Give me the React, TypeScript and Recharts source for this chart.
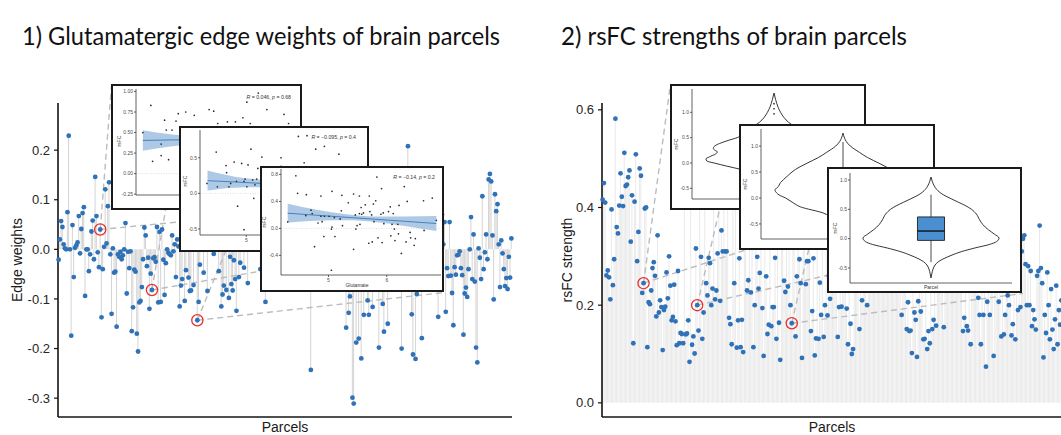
import React from 'react';
import {
  ComposedChart, ScatterChart, Bar, Line, Scatter, Area, XAxis, YAxis,
  ReferenceLine, ReferenceDot, ReferenceArea,
} from 'recharts';

// edge weight per parcel (panel 1), in parcel order
const edgeWeights = [
  -0.021, 0.02, 0.057, 0.045, 0.01, 0.002, 0, 0.075, 0.229, 0,
  -0.174, 0.049, -0.056, 0.003, 0.008, 0.014, 0.067, -0.008, 0.041, 0.073,
  0.085, -0.094, 0, 0, -0.044, -0.01, 0.036, 0.058, -0.02, 0.146,
  0.067, -0.006, -0.036, 0.04, -0.137, -0.04, 0.005, 0.121, 0.012, 0.087,
  0.135, -0.01, -0.13, 0.002, -0.047, -0.045, -0.156, -0.01, -0.015, -0.005,
  -0.02, -0.012, 0, 0.053, -0.089, -0.005, -0.038, -0.004, -0.165, -0.117,
  -0.041, -0.045, -0.17, -0.206, -0.107, -0.104, -0.076, -0.02, 0.044, 0.028,
  -0.034, -0.017, -0.12, -0.049, -0.082, -0.018, -0.016, -0.025, 0.045, -0.107,
  0.035, -0.106, 0.04, -0.021, -0.092, -0.028, 0, -0.007, -0.01, -0.012,
  0.028, -0.004, 0.01, -0.056, 0.02, 0.006, -0.115, -0.073, -0.06, 0.03,
  -0.104, -0.042, 0.055, -0.057, -0.084, -0.083, 0.012, -0.072, 0.09, 0.018,
  -0.143, -0.106, -0.031, 0.04, 0.003, -0.047, 0.07, 0.025, -0.084, 0.11,
  0.008, 0.045, 0.015, -0.009, 0.06, 0.02, 0.085, -0.044, 0.035, -0.115,
  -0.091, -0.073, 0.01, -0.082, 0.05, -0.098, -0.015, -0.07, -0.083, -0.022,
  -0.06, -0.124, 0.03, -0.056, -0.027, 0.075, 0.004, -0.037, 0.042, 0.018,
  -0.068, 0.065, 0.005, 0.03, 0.012, 0.07, 0, 0.045, 0.095, 0.02,
  -0.04, 0.06, 0.015, -0.065, -0.106, 0.03, 0.08, -0.02, 0.05, 0.01,
  -0.05, 0.11, 0.025, -0.03, 0.065, 0, -0.075, 0.04, 0.13, -0.01,
  0.02, -0.055, 0.07, 0.035, -0.025, 0.09, 0.005, -0.07, 0.045, 0.015,
  -0.04, 0.1, 0.03, -0.015, 0.055, -0.06, 0.02, 0.075, -0.035, 0.01,
  -0.243, 0.04, -0.05, 0.085, 0, 0.03, -0.08, 0.06, 0.015, -0.02,
  0.12, 0.035, -0.045, 0.07, 0.005, -0.065, 0.045, 0.02, -0.03, 0.095,
  0.01, -0.055, 0.05, 0.025, -0.01, 0.08, -0.04, 0.03, -0.158, 0.04,
  -0.128, -0.095, 0.02, -0.299, -0.311, 0.06, -0.188, -0.03, -0.18, 0.05,
  -0.22, 0.01, -0.132, 0.085, -0.04, -0.103, -0.132, 0.03, -0.06, -0.116,
  0.07, 0, -0.05, 0.11, -0.198, 0.025, -0.07, -0.11, -0.166, 0.045,
  -0.02, -0.15, 0.09, 0.015, -0.065, 0.055, -0.035, 0.14, 0.005, -0.075,
  0.035, -0.01, -0.2, 0.065, -0.045, 0.02, 0.1, 0.208, -0.025, 0.05,
  -0.131, -0.212, 0.01, -0.221, -0.09, 0.075, -0.04, 0.03, -0.179, 0.06,
  -0.015, 0.12, -0.06, 0.04, 0, -0.08, 0.085, 0.025, -0.03, 0.05,
  -0.05, -0.136, 0.035, -0.02, 0.07, 0.01, 0.055, -0.126, -0.038, -0.054,
  0.055, -0.053, -0.088, -0.153, -0.036, -0.051, -0.012, -0.011, -0.004, -0.038,
  -0.052, -0.172, -0.089, -0.077, -0.096, -0.04, 0, 0.065, -0.06, 0.03,
  -0.065, -0.198, -0.228, 0.002, -0.017, -0.06, 0.107, -0.04, -0.006, 0.03,
  -0.02, 0.141, 0.152, 0.137, 0.028, -0.101, 0.111, 0.077, 0.091, 0.01,
  -0.076, 0.018, -0.008, -0.04, -0.074, -0.058, -0.08, -0.015, -0.057, 0.022,
];

// rsFC strength per parcel (panel 2)
const rsfcStrength = [
  0.416, 0.45, 0.41, 0.261, 0.271, 0.257, 0.212, 0.396, 0.241, 0.294,
  0.582, 0.36, 0.347, 0.404, 0.47, 0.422, 0.403, 0.512, 0.444, 0.447,
  0.462, 0.476, 0.33, 0.425, 0.122, 0.412, 0.509, 0.29, 0.35, 0.48,
  0.465, 0.225, 0.245, 0.398, 0.4, 0.114, 0.206, 0.202, 0.23, 0.276,
  0.288, 0.26, 0.177, 0.343, 0.185, 0.21, 0.196, 0.108, 0.19, 0.197,
  0.267, 0.214, 0.3, 0.24, 0.169, 0.176, 0.242, 0.167, 0.118, 0.27,
  0.122, 0.143, 0.141, 0.122, 0.43, 0.14, 0.142, 0.169, 0.084, 0.41,
  0.119, 0.136, 0.101, 0.316, 0.2, 0.148, 0.45, 0.299, 0.131, 0.185,
  0.4, 0.245, 0.22, 0.297, 0.286, 0.2, 0.234, 0.42, 0.212, 0.23,
  0.306, 0.44, 0.209, 0.353, 0.31, 0.41, 0.31, 0.31, 0.46, 0.174,
  0.161, 0.12, 0.41, 0.245, 0.43, 0.113, 0.169, 0.296, 0.114, 0.17,
  0.104, 0.35, 0.33, 0.23, 0.251, 0.38, 0.226, 0.34, 0.114, 0.2,
  0.42, 0.299, 0.234, 0.266, 0.36, 0.194, 0.096, 0.33, 0.259, 0.141,
  0.16, 0.4, 0.157, 0.196, 0.196, 0.297, 0.131, 0.35, 0.164, 0.088,
  0.37, 0.32, 0.25, 0.227, 0.39, 0.238, 0.34, 0.2, 0.163, 0.36,
  0.33, 0.136, 0.259, 0.41, 0.294, 0.245, 0.092, 0.35, 0.32, 0.243,
  0.29, 0.29, 0.38, 0.147, 0.188, 0.296, 0.097, 0.132, 0.34, 0.131,
  0.246, 0.18, 0.37, 0.135, 0.2, 0.33, 0.179, 0.26, 0.213, 0.3,
  0.35, 0.24, 0.28, 0.32, 0.135, 0.196, 0.27, 0.197, 0.3, 0.25,
  0.38, 0.193, 0.12, 0.29, 0.162, 0.1, 0.11, 0.26, 0.34, 0.23,
  0.31, 0.151, 0.28, 0.21, 0.36, 0.25, 0.3, 0.2, 0.27, 0.31,
  0.24, 0.35, 0.29, 0.26, 0.42, 0.3, 0.25, 0.33, 0.28, 0.38,
  0.24, 0.31, 0.27, 0.45, 0.29, 0.34, 0.25, 0.3, 0.37, 0.26,
  0.32, 0.28, 0.4, 0.25, 0.18, 0.3, 0.27, 0.33, 0.151, 0.206,
  0.147, 0.148, 0.102, 0.29, 0.185, 0.17, 0.094, 0.208, 0.26, 0.187,
  0.32, 0.13, 0.131, 0.28, 0.11, 0.147, 0.122, 0.35, 0.151, 0.17,
  0.27, 0.158, 0.3, 0.25, 0.34, 0.27, 0.29, 0.155, 0.36, 0.24,
  0.31, 0.28, 0.41, 0.26, 0.33, 0.25, 0.3, 0.38, 0.27, 0.32,
  0.24, 0.29, 0.147, 0.174, 0.26, 0.157, 0.148, 0.3, 0.12, 0.34,
  0.27, 0.25, 0.31, 0.28, 0.215, 0.18, 0.12, 0.36, 0.18, 0.26,
  0.074, 0.207, 0.3, 0.18, 0.33, 0.25, 0.096, 0.29, 0.38, 0.24,
  0.207, 0.27, 0.136, 0.32, 0.14, 0.18, 0.28, 0.22, 0.2, 0.35,
  0.138, 0.161, 0.26, 0.13, 0.3, 0.19, 0.25, 0.196, 0.31, 0.336,
  0.343, 0.284, 0.2, 0.28, 0.2, 0.27, 0.157, 0.19, 0.171, 0.15,
  0.26, 0.27, 0.363, 0.276, 0.245, 0.093, 0.18, 0.143, 0.267, 0.2,
  0.13, 0.233, 0.15, 0.11, 0.171, 0.24, 0.12, 0.19, 0.16, 0.21,
];

const edgeTicks = [-0.3, -0.2, -0.1, 0, 0.1, 0.2];
const rsfcTicks = [0, 0.2, 0.4, 0.6];

// parcels circled in red
const edgeHighlights = [33, 74, 110];
const rsfcHighlights = [32, 74, 148];

// zoom connectors: [from parcel, to parcel position, to value]
const edgeLinks = [
  [33, 42, 0.333], [33, 193, 0.079],
  [74, 96, 0.248], [74, 246, -0.006],
  [110, 160, 0.168], [110, 306, -0.087],
];
const rsfcLinks = [
  [32, 53, 0.651], [32, 207, 0.394],
  [74, 107, 0.569], [74, 261, 0.312],
  [148, 176, 0.482], [148, 329, 0.224],
];

// inset scatter plots: [glutamate, rsFC]
const parcelAPoints = [
  [4.32, 0.5], [4.46, 0.83], [4.49, 0.15], [4.64, 0.22], [4.64, 0.36], [4.7, 0.65],
  [4.73, 0.53], [4.77, 0.17], [4.83, 0.53], [4.9, 0.64], [4.94, 0.73], [5.07, 0.75],
  [5.22, 0.71], [5.48, 0.78], [5.56, 0.76], [5.63, 0.61], [5.8, 0.63], [5.94, 0.63],
  [6.07, 0.68], [6.14, 0.87], [6.2, 0.61], [6.34, 0.98], [6.49, 0.78], [6.79, 0.72],
  [6.87, 0.61], [5.3, 0.3], [5.9, 0.12], [6.3, 0.42], [6.6, 0.22], [5.5, 0.45],
  [6.0, 0.35], [5.15, 0.05], [6.45, 0.05], [5.7, -0.1], [6.7, 0.48],
];
const parcelBPoints = [
  [4.32, 0.14], [4.48, 0.58], [4.5, 0.093], [4.65, 0.39], [4.66, 0.29], [4.7, 0.093],
  [4.73, 0.14], [4.79, 0.44], [4.83, 0.17], [4.92, 0.42], [4.96, 0.17], [4.98, 0.2],
  [5.01, 0.093], [5.03, 0.4], [5.08, 0.62], [5.11, 0.19], [5.13, -0.07], [5.18, 0.2],
  [5.2, 0.35], [5.27, 0.51], [4.85, -0.18], [4.96, -0.51], [5.6, 0.5], [5.6, 0.38],
  [5.7, 0.27], [5.9, 0.8], [6.05, 0.81], [6.2, 0.62], [6.0, 0.43], [6.35, 0.66],
  [6.6, 0.55], [5.4, 0.24], [5.5, 0.05], [5.8, 0.15], [6.1, 0.3], [6.5, 0.1],
  [5.3, 0.31], [5.9, -0.2], [6.4, -0.1], [5.15, 0.12],
];
const parcelCPoints = [
  [4.3, 0.098], [4.44, 0.78], [4.47, 0.52], [4.62, 0.5], [4.61, 0.19], [4.7, 0.27],
  [4.72, 0.22], [4.76, -0.27], [4.82, 0.08], [4.87, 0.48], [4.87, 0.18], [4.89, 0.1],
  [4.92, -0.12], [4.93, 0.18], [5.01, 0.18], [5.05, -0.01], [5.06, 0.02], [5.06, 0.55],
  [5.1, 0.16], [5.11, -0.12], [5.05, -0.62], [5.2, 0.14], [5.22, 0.26], [5.23, 0.49],
  [5.24, 0.04], [5.34, 0.38], [5.43, 0.51], [5.43, -0.31], [5.46, 0.2], [5.47, -0.01],
  [5.49, 0.04], [5.53, 0.22], [5.53, 0.48], [5.54, 0.06], [5.56, 0.31], [5.57, 0.21],
  [5.6, 0.23], [5.63, 0.35], [5.69, -0.22], [5.7, 0.48], [5.71, 0.25], [5.74, 0.2],
  [5.75, -0.2], [5.77, 0.36], [5.78, 0.1], [5.81, 0.41], [5.83, 0.76], [5.85, -0.14],
  [5.9, 0.21], [5.91, 0.59], [5.92, -0.21], [5.94, 0.23], [5.95, 0.07], [6.03, 0.25],
  [6.06, 0.32], [6.07, -0.11], [6.09, 0.06], [6.11, 0.22], [6.13, -0.01], [6.14, -0.18],
  [6.19, 0.06], [6.2, -0.08], [6.21, 0.34], [6.25, -0.37], [6.3, 0.62], [6.33, -0.2],
  [6.35, 0.4], [6.4, -0.06], [6.41, -0.14], [6.47, -0.25], [6.49, -0.15], [6.63, 0.41],
  [6.64, -0.03], [6.78, 0.45], [6.85, 0.12],
];

// linear fits: [glutamate, fit, lower CI, upper CI]
const parcelAFit = [
  [4.32, 0.404, 0.28, 0.527], [4.8, 0.41, 0.33, 0.48], [5.3, 0.413, 0.36, 0.46],
  [5.8, 0.42, 0.37, 0.47], [6.3, 0.43, 0.36, 0.5], [6.9, 0.455, 0.33, 0.58],
];
const parcelBFit = [
  [4.33, 0.178, 0.04, 0.32], [4.8, 0.16, 0.08, 0.235], [5.3, 0.138, 0.085, 0.19],
  [5.8, 0.118, 0.07, 0.17], [6.3, 0.097, 0.04, 0.16], [6.9, 0.073, -0.03, 0.17],
];
const parcelCFit = [
  [4.3, 0.225, 0.085, 0.365], [4.8, 0.195, 0.115, 0.275], [5.3, 0.165, 0.12, 0.21],
  [5.8, 0.136, 0.096, 0.176], [6.3, 0.106, 0.036, 0.176], [6.85, 0.073, -0.037, 0.183],
];

// violin half-widths: [rsFC, density]
const violinD = [
  [1.38, 0], [1.25, 0.02], [1.1, 0.05], [1.0, 0.08], [0.9, 0.12], [0.8, 0.18],
  [0.7, 0.27], [0.62, 0.34], [0.55, 0.4], [0.5, 0.45], [0.45, 0.55], [0.4, 0.64],
  [0.34, 0.72], [0.29, 0.74], [0.25, 0.72], [0.22, 0.69], [0.18, 0.71], [0.12, 0.79],
  [0.08, 0.83], [0.04, 0.82], [0, 0.73], [-0.06, 0.58], [-0.12, 0.42], [-0.2, 0.26],
  [-0.3, 0.15], [-0.4, 0.08], [-0.5, 0.05], [-0.6, 0.02], [-0.7, 0],
];
const violinE = [
  [1.25, 0], [1.15, 0.02], [1.09, 0.04], [1.0, 0.09], [0.88, 0.2], [0.78, 0.3],
  [0.67, 0.44], [0.55, 0.58], [0.42, 0.68], [0.3, 0.76], [0.2, 0.8], [0.16, 0.83],
  [0.1, 0.81], [0.06, 0.78], [0, 0.7], [-0.08, 0.62], [-0.17, 0.52], [-0.29, 0.24],
  [-0.4, 0.13], [-0.5, 0.08], [-0.6, 0.04], [-0.7, 0],
];
const violinF = [
  [1.05, 0], [0.98, 0.015], [0.9, 0.04], [0.84, 0.07], [0.75, 0.15], [0.68, 0.25],
  [0.62, 0.34], [0.56, 0.43], [0.5, 0.5], [0.42, 0.56], [0.32, 0.6], [0.24, 0.64],
  [0.15, 0.71], [0.08, 0.78], [0.01, 0.84], [-0.05, 0.81], [-0.1, 0.72], [-0.16, 0.54],
  [-0.22, 0.38], [-0.28, 0.26], [-0.34, 0.16], [-0.39, 0.095], [-0.45, 0.05],
  [-0.52, 0.025], [-0.6, 0.01], [-0.67, 0],
];
// boxplot: [lower whisker, Q1, median, Q3, upper whisker]
const boxE = [-0.38, -0.05, 0.12, 0.35, 1.08];
const boxF = [-0.4, -0.03, 0.13, 0.37, 0.75];
const spikeDotsD = [1.17, 1.07, 0.97];

const DOT = '#2f72b8';
const AXIS = '#141414';
const INK = '#333';

const noShape = () => <g />;
const tinyDot = (p: any) => <circle cx={p.cx} cy={p.cy} r={0.85} fill="#2a2a2a" />;

function Lollipop({ values, width, margin, yWidth, domain, ticks, stem, highlights, links }: any) {
  const data = values.map((v: number, i: number) => ({ i, v }));
  return (
    <ComposedChart width={width} height={435} data={data} margin={margin}>
      <XAxis dataKey="i" type="category" tick={false} tickLine={false} height={1}
        axisLine={{ stroke: AXIS, strokeWidth: 1.6 }} />
      <YAxis type="number" domain={domain} allowDataOverflow ticks={ticks} width={yWidth}
        tickFormatter={(v: number) => v.toFixed(1)} tickSize={4} tickMargin={4}
        tick={{ fontSize: 13, fill: '#262626' }}
        axisLine={{ stroke: AXIS, strokeWidth: 1.6 }} tickLine={{ stroke: AXIS, strokeWidth: 1.2 }} />
      <Bar dataKey="v" barSize={1} fill={stem} isAnimationActive={false} />
      {links.map(([from, toI, toV]: number[], k: number) => (
        <ReferenceLine key={`l${k}`} ifOverflow="visible"
          segment={[{ x: from, y: values[from] }, { x: toI, y: toV }]}
          stroke="#bcbcbc" strokeWidth={1.4} strokeDasharray="6 4" />
      ))}
      <Line dataKey="v" stroke="none" isAnimationActive={false}
        dot={{ r: 2.4, fill: DOT, stroke: 'none' }} activeDot={false} />
      {highlights.map((i: number) => (
        <ReferenceDot key={`h${i}`} x={i} y={values[i]} r={5.6} fill="none"
          stroke="#e8302a" strokeWidth={1.3} ifOverflow="visible" />
      ))}
    </ComposedChart>
  );
}

function Frame({ left, top, width, height, children }: any) {
  return (
    <div style={{
      position: 'absolute', left, top, width, height, boxSizing: 'border-box',
      border: '2px solid #1a1a1a', background: '#fff', overflow: 'hidden',
    }}>
      {children}
    </div>
  );
}

function Overlay({ w, h, children }: any) {
  return (
    <svg width={w} height={h} style={{ position: 'absolute', left: 0, top: 0 }}>
      {children}
    </svg>
  );
}

function Note({ x, y, r, p }: any) {
  return (
    <text x={x} y={y} textAnchor="end" fontSize={5.2} fill={INK}>
      <tspan fontStyle="italic">R</tspan>{` = ${r}, `}<tspan fontStyle="italic">p</tspan>{` = ${p}`}
    </text>
  );
}

function YLab({ x, y }: any) {
  return (
    <text x={x} y={y} transform={`rotate(-90 ${x} ${y})`} textAnchor="middle" fontSize={5} fill={INK}>rsFC</text>
  );
}

const smallTick = { fontSize: 5, fill: '#4d4d4d' };
const smallAxis = { stroke: '#3a3a3a', strokeWidth: 0.8 };

function ScatterInset({ box, points, fit, xDomain, yDomain, yTicks, digits, margin, yWidth, xHeight, children }: any) {
  const w = box.width - 4;
  const h = box.height - 4;
  const band = fit.map(([x, y, lo, hi]: number[]) => ({ x, fit: y, band: [lo, hi] }));
  const pts = points.map(([x, y]: number[]) => ({ x, y }));
  return (
    <Frame {...box}>
      <ComposedChart width={w} height={h} data={band} margin={margin}>
        <XAxis type="number" dataKey="x" domain={xDomain} allowDataOverflow ticks={[5, 6]}
          height={xHeight} tick={smallTick} tickSize={2} tickMargin={1}
          axisLine={smallAxis} tickLine={smallAxis} />
        <YAxis type="number" dataKey="y" domain={yDomain} allowDataOverflow ticks={yTicks}
          width={yWidth} tickFormatter={(v: number) => v.toFixed(digits)} tick={smallTick}
          tickSize={2} tickMargin={1} axisLine={smallAxis} tickLine={smallAxis} />
        <ReferenceLine y={0} stroke="#c8c8c8" strokeWidth={0.6} strokeDasharray="1 1.5" />
        <Area dataKey="band" type="monotone" stroke="none" fill="#9fc0e2" fillOpacity={0.85}
          isAnimationActive={false} />
        <Line dataKey="fit" type="monotone" stroke="#3b78b8" strokeWidth={0.9} dot={false}
          isAnimationActive={false} />
        <Scatter data={pts} shape={tinyDot} isAnimationActive={false} />
      </ComposedChart>
      <Overlay w={w} h={h}>{children}</Overlay>
    </Frame>
  );
}

function ViolinInset({ box, profile, yDomain, margin, yWidth, xHeight, stats, dots, children }: any) {
  const w = box.width - 4;
  const h = box.height - 4;
  const right = profile.map(([y, d]: number[]) => ({ x: d, y }));
  const left = profile.map(([y, d]: number[]) => ({ x: -d, y }));
  const line = { stroke: '#1e1e1e', strokeWidth: 0.9 };
  return (
    <Frame {...box}>
      <ScatterChart width={w} height={h} margin={margin}>
        <XAxis type="number" dataKey="x" domain={[-1, 1]} allowDataOverflow tick={false}
          tickLine={false} height={xHeight} axisLine={smallAxis} />
        <YAxis type="number" dataKey="y" domain={yDomain} allowDataOverflow ticks={[-0.5, 0, 0.5, 1]}
          width={yWidth} tickFormatter={(v: number) => v.toFixed(1)} tick={smallTick}
          tickSize={2} tickMargin={1} axisLine={smallAxis} tickLine={smallAxis} />
        <Scatter data={right} shape={noShape} line={line} lineJointType="monotoneY" isAnimationActive={false} />
        <Scatter data={left} shape={noShape} line={line} lineJointType="monotoneY" isAnimationActive={false} />
        {stats && (
          <ReferenceLine segment={[{ x: 0, y: stats[0] }, { x: 0, y: stats[1] }]} stroke="#1e1e1e" strokeWidth={0.8} />
        )}
        {stats && (
          <ReferenceLine segment={[{ x: 0, y: stats[3] }, { x: 0, y: stats[4] }]} stroke="#1e1e1e" strokeWidth={0.8} />
        )}
        {stats && (
          <ReferenceArea x1={-0.167} x2={0.167} y1={stats[1]} y2={stats[3]} fill="#4b8fd1"
            fillOpacity={1} stroke="#1e1e1e" strokeWidth={0.9} />
        )}
        {stats && (
          <ReferenceLine segment={[{ x: -0.167, y: stats[2] }, { x: 0.167, y: stats[2] }]}
            stroke="#111" strokeWidth={1.4} />
        )}
        {dots && (
          <Scatter data={dots.map((y: number) => ({ x: 0, y }))} shape={tinyDot} isAnimationActive={false} />
        )}
      </ScatterChart>
      <Overlay w={w} h={h}>{children}</Overlay>
    </Frame>
  );
}

export default function App() {
  return (
    <div style={{
      position: 'fixed', left: 0, top: 0, width: 1061, height: 435, background: '#fff',
      overflow: 'hidden', fontFamily: '"Liberation Sans", Arial, sans-serif',
    }}>
      <div style={{ position: 'absolute', left: 0, top: 0 }}>
        <Lollipop values={edgeWeights} width={530} margin={{ top: 103, right: 18, bottom: 17, left: 0 }}
          yWidth={58} domain={[-0.338, 0.295]} ticks={edgeTicks} stem="#d4d4d4"
          highlights={edgeHighlights} links={edgeLinks} />
      </div>
      <div style={{ position: 'absolute', left: 540, top: 0 }}>
        <Lollipop values={rsfcStrength} width={530} margin={{ top: 103, right: 8, bottom: 17, left: 0 }}
          yWidth={62} domain={[-0.029, 0.614]} ticks={rsfcTicks} stem="#eaeaea"
          highlights={rsfcHighlights} links={rsfcLinks} />
      </div>

      <svg width={1061} height={435} style={{ position: 'absolute', left: 0, top: 0 }}>
        <g fontFamily="Lato, 'Open Sans', sans-serif" fontSize={25} fill="#111">
          <text x={22} y={45} textLength={478} lengthAdjust="spacingAndGlyphs">1) Glutamatergic edge weights of brain parcels</text>
          <text x={561} y={45} textLength={346} lengthAdjust="spacingAndGlyphs">2) rsFC strengths of brain parcels</text>
        </g>
        <g fontSize={14} fill="#1a1a1a" textAnchor="middle">
          <text x={22} y={260} transform="rotate(-90 22 260)">Edge weights</text>
          <text x={285} y={432}>Parcels</text>
          <text x={572} y={260} transform="rotate(-90 572 260)">rsFC strength</text>
          <text x={832} y={432}>Parcels</text>
        </g>
      </svg>

      <ScatterInset box={{ left: 111, top: 84, width: 191, height: 126 }} points={parcelAPoints} fit={parcelAFit}
        xDomain={[4.2, 7.0]} yDomain={[-0.26, 1.03]} yTicks={[-0.25, 0, 0.25, 0.5, 0.75, 1]} digits={2}
        margin={{ top: 3, right: 4, bottom: 0, left: 0 }} yWidth={23} xHeight={13}>
        <YLab x={8} y={55} />
        <Note x={178} y={13} r="0.046" p="0.68" />
      </ScatterInset>
      <ScatterInset box={{ left: 179, top: 126, width: 190, height: 126 }} points={parcelBPoints} fit={parcelBFit}
        xDomain={[4.2, 7.0]} yDomain={[-0.585, 0.89]} yTicks={[-0.5, 0, 0.5]} digits={1}
        margin={{ top: 2, right: 5, bottom: 0, left: 0 }} yWidth={19} xHeight={15}>
        <YLab x={6} y={53} />
        <Note x={175} y={11} r="−0.095" p="0.4" />
      </ScatterInset>
      <ScatterInset box={{ left: 260, top: 166, width: 184, height: 126 }} points={parcelCPoints} fit={parcelCFit}
        xDomain={[4.185, 6.93]} yDomain={[-0.69, 0.88]} yTicks={[-0.4, 0, 0.4, 0.8]} digits={1}
        margin={{ top: 1, right: 1, bottom: 0, left: 0 }} yWidth={19} xHeight={15}>
        <YLab x={4} y={54} />
        <Note x={173} y={11} r="−0.14" p="0.2" />
        <text x={95} y={119} textAnchor="middle" fontSize={5} fill={INK}>Glutamate</text>
      </ScatterInset>

      <ViolinInset box={{ left: 670, top: 84, width: 196, height: 126 }} profile={violinD}
        yDomain={[-0.71, 1.46]} margin={{ top: 3, right: 8, bottom: 0, left: 0 }} yWidth={20} xHeight={9}
        dots={spikeDotsD}>
        <YLab x={6} y={58} />
      </ViolinInset>
      <ViolinInset box={{ left: 739, top: 124, width: 196, height: 126 }} profile={violinE}
        yDomain={[-0.79, 1.33]} margin={{ top: 3, right: 8, bottom: 0, left: 0 }} yWidth={20} xHeight={9}
        stats={boxE}>
        <YLab x={6} y={58} />
      </ViolinInset>
      <ViolinInset box={{ left: 827, top: 167, width: 195, height: 126 }} profile={violinF}
        yDomain={[-0.757, 1.12]} margin={{ top: 4, right: 8, bottom: 0, left: 0 }} yWidth={21} xHeight={8}
        stats={boxF}>
        <YLab x={8} y={59} />
        <text x={102} y={120} textAnchor="middle" fontSize={5} fill={INK}>Parcel</text>
      </ViolinInset>
    </div>
  );
}
